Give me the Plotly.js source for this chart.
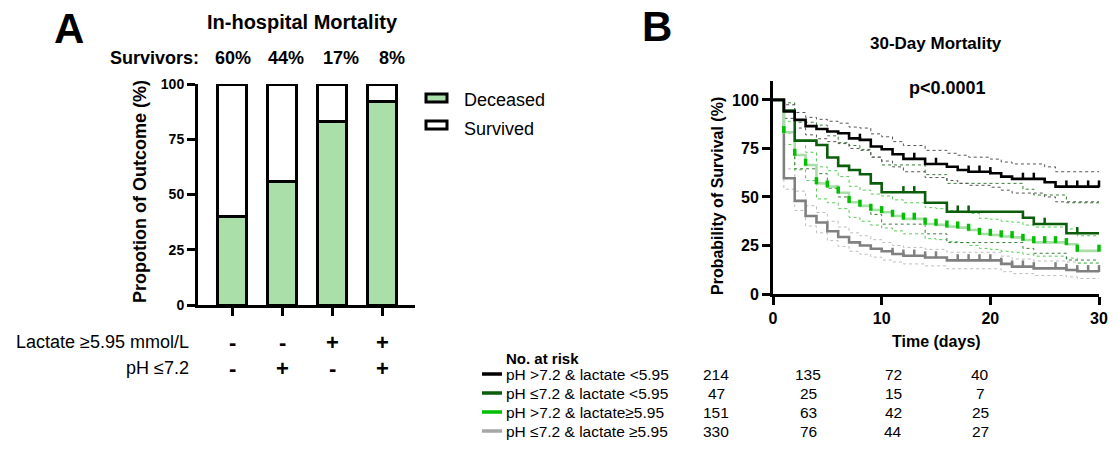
<!DOCTYPE html>
<html><head><meta charset="utf-8">
<script src="https://cdn.plot.ly/plotly-3.0.1.min.js"></script>
<style>html,body{margin:0;padding:0;background:#fff}#chart{width:1118px;height:455px}</style>
</head><body><div id="chart"></div>
<script>
// ---------- Panel A data ----------
const categories = ['G1', 'G2', 'G3', 'G4'];
const lactateSigns = ['-', '-', '+', '+'];
const phSigns = ['-', '+', '-', '+'];
const deceased = [40, 56, 83, 92];
const survived = [60, 44, 17, 8];
const survivorLabels = ['60%', '44%', '17%', '8%'];

// ---------- Panel B data (Kaplan-Meier steps) ----------
const groupNames = ['pH >7.2 & lactate <5.95', 'pH ≤7.2 & lactate <5.95', 'pH >7.2 & lactate≥5.95', 'pH ≤7.2 & lactate ≥5.95'];

const tBlack = [0,1,2,3,4,5,6,7,8,9,10,11,12,14,16,17,18,20,21,22,25,26,30];
const sBlack = [100,94,89.7,86.5,85,83.7,82.8,80.2,79.4,76,74.6,72,69.6,67,65.6,63.9,63,62.2,60.5,59.3,57.6,55.3,55.3];
const upBlack = [100,97.5,93.5,91,90,89,88,86,85.5,82.5,81,78.5,76.5,74,72.5,71.5,70.5,69.5,68,67,65.5,63,63];
const loBlack = [100,90.5,85.5,82,80,78.5,77.5,75,74,70.5,68.5,65.5,63,60,58.5,57,56,55,53.5,52,50,47.5,47.5];
const cBlack = [8,13,15,18,19,20,23,24,27,28,29,30];

const tDG = [0,1,2,4,5,6,7,8,9,10,14,16,23,24,27,30];
const sDG = [100,94.5,79,76.8,70.3,66,63.9,61.7,57,52.4,47,42.4,39.3,36.1,31.3,31.3];
const upDG = [100,98.5,88.5,87,81.5,78,76.5,74.5,70.5,66.5,61.5,57,54,51,47,47];
const loDG = [100,83,64.5,62,54.5,50,47.5,45.5,41,36,31,26.5,23.5,21,17.5,17.5];
const cDG = [12,13,17,18,25,28];

const tLG = [0,1,2,3,4,5,6,7,8,9,10,11,12,14,15,16,17,18,19,20,21,22,23,24,27,28,30];
const sLG = [100,83.3,71.6,66.5,57,55.3,52.2,47.3,45.4,43.3,42.1,40.2,38.7,36.1,35.6,34.7,34.2,33,30.9,30.4,29.6,29.2,27.8,26.6,25.6,22.2,22.2];
const upLG = [100,89,79,73,65.5,63.5,60.5,55.5,53.5,51.5,50.5,48.5,47,44.5,44,43,42.5,41.5,39,38.5,37.5,37,35.5,34.5,33.5,30,30];
const loLG = [100,77,64,58.5,49,47,44,39.5,37.5,35.5,34,32.5,31,28.5,28,27,26.5,25,23.5,23,22,21.5,20.5,19.5,18.5,16,16];
const cLG = [1,2,3,4,5,6,7,8,9,10,11,12,13,14,15,16,17,18,19,20,21,22,23,24,25,26,27,28,30];

const tGR = [0,1,2,3,4,5,6,7,8,9,10,11,12,14,16,21,22,24,27,28,30];
const sGR = [100,59.6,48,40.2,36.8,32.3,29.4,26.6,25,23.3,22,20.6,19.7,18.8,17.3,15.5,14.1,13.2,12.4,11.7,11.7];
const upGR = [100,64.5,53,45.5,42,37.5,34.5,31.5,30,28,26.5,25,24,23,21.5,19.5,18,17,16.5,15.8,15.8];
const loGR = [100,54,43,35,31.5,27.5,24.5,22,20.5,19,17.5,16.5,15.5,14.5,13,11.5,10.5,9.5,8.8,8,8];
const cGR = [11,12,13,14,15,17,18,19,20,21,22,23,24,26,27,28,29,30];

const riskDays = [0, 10, 20, 30];
const riskBlack = [214, 135, 72, 40];
const riskDG = [47, 25, 15, 7];
const riskLG = [151, 63, 42, 25];
const riskGR = [330, 76, 44, 27];

// ---------- helpers ----------
const W = 1118, H = 455;
const px = x => x / W;
const py = y => 1 - y / H;
const F = 'Arial, "Liberation Sans", sans-serif';

function stepAt(t, s, d) {
  let v = s[0];
  for (let i = 0; i < t.length; i++) { if (t[i] <= d) v = s[i]; }
  return v;
}

const COL = { black: '#000000', dg: '#0b5d0b', lgLine: '#a9dea9', lgMark: '#00c000', gr: '#808080' };
const TICK_LIFT = 1.4; // small visual lift so censor ticks sit on top of the line

const traces = [];
// Panel A bars
traces.push({ type: 'bar', x: categories, y: deceased, xaxis: 'x', yaxis: 'y', marker: { color: '#aadfaa', line: { color: '#000', width: 3 } }, hoverinfo: 'skip' });
traces.push({ type: 'bar', x: categories, y: survived, xaxis: 'x', yaxis: 'y', marker: { color: '#ffffff', line: { color: '#000', width: 3 } }, hoverinfo: 'skip' });

// Panel B CIs
function ci(t, v, color) {
  return { type: 'scatter', mode: 'lines', x: t, y: v, xaxis: 'x2', yaxis: 'y2', line: { shape: 'hv', color: color, width: 1, dash: 'dot' }, hoverinfo: 'skip' };
}
traces.push(ci(tGR, upGR, '#bdbdbd'), ci(tGR, loGR, '#bdbdbd'));
traces.push(ci(tLG, upLG, '#55cc55'), ci(tLG, loLG, '#55cc55'));
traces.push(ci(tDG, upDG, '#3a7a3a'), ci(tDG, loDG, '#3a7a3a'));
traces.push(ci(tBlack, upBlack, '#555555'), ci(tBlack, loBlack, '#555555'));

function km(t, s, color) {
  return { type: 'scatter', mode: 'lines', x: t, y: s, xaxis: 'x2', yaxis: 'y2', line: { shape: 'hv', color: color, width: 2.6 }, hoverinfo: 'skip' };
}
function cens(t, s, days, color, w, size) {
  return { type: 'scatter', mode: 'markers', x: days, y: days.map(d => stepAt(t, s, d) + TICK_LIFT), xaxis: 'x2', yaxis: 'y2', cliponaxis: false,
    marker: { symbol: 'line-ns', size: size, line: { color: color, width: w } }, hoverinfo: 'skip' };
}
traces.push(km(tGR, sGR, COL.gr), cens(tGR, sGR, cGR, COL.gr, 2.5, 5));
traces.push(km(tLG, sLG, COL.lgLine), cens(tLG, sLG, cLG, COL.lgMark, 3.5, 5));
traces.push(km(tDG, sDG, COL.dg), cens(tDG, sDG, cDG, COL.dg, 2.5, 5));
traces.push(km(tBlack, sBlack, COL.black), cens(tBlack, sBlack, cBlack, COL.black, 2.5, 5));

const ann = [];
function A(text, x, y, size, opts) {
  ann.push(Object.assign({ text: text, x: x, y: y, xref: 'paper', yref: 'paper', showarrow: false, font: { family: F, size: size, color: '#000' }, xanchor: 'center', yanchor: 'middle' }, opts || {}));
}
A('<b>A</b>', px(69), py(28), 42);
A('<b>B</b>', px(657), py(26), 42);
A('<b>In-hospital Mortality</b>', px(302), py(22), 20);
A('<b>Survivors:</b>', px(201), py(58), 18, { xanchor: 'right' });
const pctX = [233, 286, 341, 392];
survivorLabels.forEach((s, i) => A('<b>' + s + '</b>', px(pctX[i]), py(58), 18));
A('<b>Propotion of Outcome (%)</b>', px(140), py(192), 18, { textangle: -90 });
A('Deceased', px(462), py(100), 18, { xanchor: 'left' });
A('Survived', px(462), py(129), 18, { xanchor: 'left' });
A('Lactate ≥5.95 mmol/L', px(191), py(342), 18, { xanchor: 'right' });
A('pH ≤7.2', px(191), py(368), 18, { xanchor: 'right' });
categories.forEach((c, i) => {
  ann.push({ text: '<b>' + lactateSigns[i] + '</b>', x: c, xref: 'x', y: py(342), yref: 'paper', xanchor: 'center', yanchor: 'middle', showarrow: false, font: { family: F, size: 22, color: '#000' } });
  ann.push({ text: '<b>' + phSigns[i] + '</b>', x: c, xref: 'x', y: py(368), yref: 'paper', xanchor: 'center', yanchor: 'middle', showarrow: false, font: { family: F, size: 22, color: '#000' } });
});
A('<b>30-Day Mortality</b>', px(936), py(43), 17);
A('<b>p<0.0001</b>', px(947), py(88), 18);
A('<b>Probability of Survival (%)</b>', px(717), py(196), 16, { textangle: -90 });
A('<b>Time (days)</b>', px(936), py(341), 16);
A('<b>No. at risk</b>', px(504), py(358), 15, { xanchor: 'left' });
const rowY = [374, 393, 412, 431];
const colX = [716, 808, 893, 980];
const riskRows = [riskBlack, riskDG, riskLG, riskGR];
const rowColors = ['#000000', '#0b5d0b', '#00c000', '#a6a6a6'];
const shapes = [];
groupNames.forEach((g, i) => {
  A(g, px(504), py(rowY[i]), 15.5, { xanchor: 'left' });
  riskRows[i].forEach((n, j) => A(String(n), px(colX[j]), py(rowY[i]), 15.5));
  shapes.push({ type: 'line', xref: 'paper', yref: 'paper', x0: px(482), x1: px(502), y0: py(rowY[i]), y1: py(rowY[i]), line: { color: rowColors[i], width: 3.5 } });
});
// Legend boxes panel A
shapes.push({ type: 'rect', xref: 'paper', yref: 'paper', x0: px(426), x1: px(447), y0: py(94), y1: py(102), fillcolor: '#aadfaa', line: { color: '#000', width: 3 } });
shapes.push({ type: 'rect', xref: 'paper', yref: 'paper', x0: px(426), x1: px(447), y0: py(121), y1: py(129), fillcolor: '#ffffff', line: { color: '#000', width: 3 } });

const axisCommon = { showline: true, linewidth: 3, linecolor: '#000', ticks: 'outside', ticklen: 8, tickwidth: 3, tickcolor: '#000', showgrid: false, zeroline: false, fixedrange: true };

const layout = {
  width: W, height: H, margin: { l: 0, r: 0, t: 0, b: 0 }, paper_bgcolor: '#fff', plot_bgcolor: 'rgba(0,0,0,0)',
  showlegend: false, barmode: 'stack', bargap: 0.42, font: { family: F, color: '#000' },
  xaxis: Object.assign({}, axisCommon, { domain: [px(198), px(415)], type: 'category', range: [-0.68, 3.66], showticklabels: false, anchor: 'y' }),
  yaxis: Object.assign({}, axisCommon, { domain: [py(305), py(84)], range: [0, 100], tickvals: [0, 25, 50, 75, 100], tickfont: { family: F, size: 14, weight: 'bold' }, anchor: 'x' }),
  xaxis2: Object.assign({}, axisCommon, { domain: [px(773), px(1099)], range: [0, 30], tickvals: [0, 10, 20, 30], tickfont: { family: F, size: 16, weight: 'bold' }, anchor: 'y2' }),
  yaxis2: Object.assign({}, axisCommon, { domain: [py(294), py(80.5)], range: [0, 110], tickvals: [0, 25, 50, 75, 100], tickfont: { family: F, size: 16, weight: 'bold' }, anchor: 'x2' }),
  annotations: ann, shapes: shapes
};
Plotly.newPlot('chart', traces, layout, { staticPlot: true, displayModeBar: false });
</script></body></html>
